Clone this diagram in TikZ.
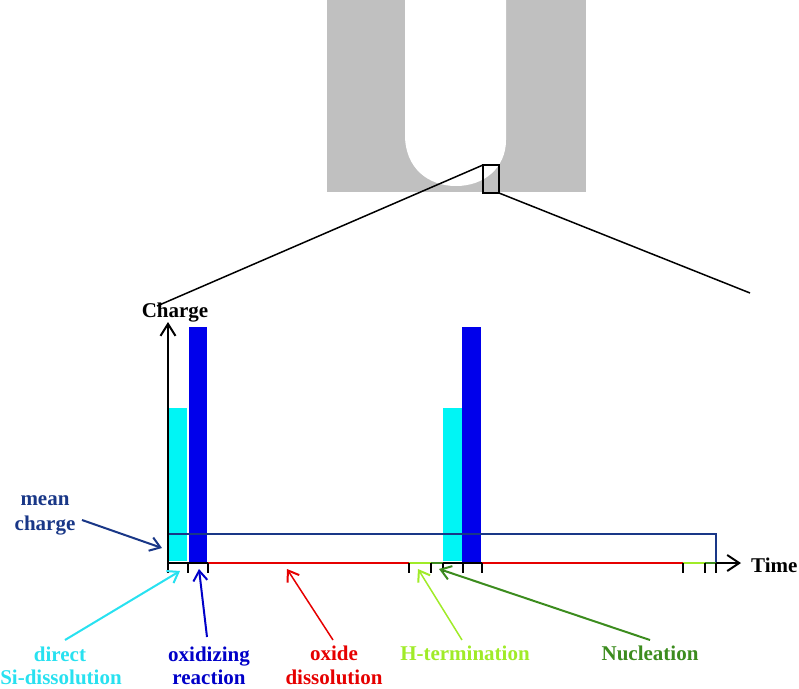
\documentclass[tikz,border=0pt]{standalone}
\usepackage{fontspec}
\setmainfont{Liberation Serif}
\usetikzlibrary{arrows.meta}
\definecolor{ugray}{RGB}{192,192,192}
\definecolor{bcyan}{RGB}{0,245,245}
\definecolor{bblue}{RGB}{0,0,235}
\definecolor{lred}{RGB}{230,0,0}
\definecolor{lgreen}{RGB}{160,235,40}
\definecolor{dgreen}{RGB}{60,140,30}
\definecolor{navy}{RGB}{25,55,135}
\definecolor{tcyan}{RGB}{40,225,240}
\definecolor{tblue}{RGB}{0,0,200}
\begin{document}
\begin{tikzpicture}[x=1pt,y=-1pt,
  lbl/.style={font=\fontsize{21}{25}\selectfont\bfseries, anchor=base, inner sep=0pt},
  ptr/.style={line width=2pt, -{Straight Barb[length=10pt,width=14pt,line width=2pt]}},
  axis/.style={line width=2pt},
  tick/.style={line width=2pt},
  zoomline/.style={line width=1.5pt}]
\useasboundingbox (0,0) rectangle (799,688);
% U-shaped groove
\fill[ugray] (327,0) rectangle (586,192);
\fill[white] (405,-1) -- (405,135) .. controls (405,168) and (428,186) .. (456,186)
   .. controls (484,186) and (506,168) .. (506,140) -- (506,-1) -- cycle;
\draw[line width=2pt] (483,165) rectangle (499,193);
\coordinate (zl) at (483,165);
\coordinate (zr) at (499,193);
\coordinate (zle) at (157,306);
\coordinate (zre) at (750,293);
\draw[zoomline] (zl) -- (zle);
\draw[zoomline] (zr) -- (zre);
% bars
\fill[bcyan] (168,408) rectangle (187,561);
\fill[bblue] (189,327) rectangle (207,563);
\fill[bcyan] (443,408) rectangle (462,561);
\fill[bblue] (462,327) rectangle (481,563);
% mean charge line
\draw[navy, line width=2pt] (168,534) -- (716,534) -- (716,563);
% time axis segments
\coordinate (o) at (168,563);
\coordinate (tend) at (741,563);
\draw[axis] (o) -- (208,563);
\draw[axis, lred] (208,563) -- (409,563);
\draw[axis, lgreen] (409,563) -- (431,563);
\draw[axis, dgreen] (431,563) -- (443,563);
\draw[axis] (443,563) -- (482,563);
\draw[axis, lred] (482,563) -- (683,563);
\draw[axis, lgreen] (683,563) -- (705,563);
\draw[axis, dgreen] (705,563) -- (716,563);
\draw[axis, -{Straight Barb[length=12pt,width=16pt,line width=2pt]}] (716,563) -- (tend);
\coordinate (cend) at (168,322);
\draw[axis, -{Straight Barb[length=12pt,width=15pt,line width=2pt]}] (168,573) -- (cend);
% ticks
\foreach \x in {188,208,409,431,443,463,482,683,705,716}
  \draw[tick] (\x,563) -- (\x,573);
% axis labels
\node[lbl] (charge) at (175,317) {Charge};
\node[lbl, anchor=base west] (time) at (751,572) {Time};
% labels
\node[lbl, navy] (mean1) at (45,505) {mean};
\node[lbl, navy] (mean2) at (45,530) {charge};
\node[lbl, tcyan] (dir1) at (60,661) {direct};
\node[lbl, tcyan] (dir2) at (61,684) {Si-dissolution};
\node[lbl, tblue] (ox1) at (209,661) {oxidizing};
\node[lbl, tblue] (ox2) at (209,684) {reaction};
\node[lbl, lred] (od1) at (334,660) {oxide};
\node[lbl, lred] (od2) at (334,684) {dissolution};
\node[lbl, lgreen] (ht) at (465,660) {H-termination};
\node[lbl, dgreen] (nuc) at (650,660) {Nucleation};
% pointer coordinates
\coordinate (ms) at (82,520); \coordinate (me) at (162,548);
\coordinate (ds) at (65,640); \coordinate (de) at (180,571);
\coordinate (os) at (207,637); \coordinate (oe) at (199,569);
\coordinate (xs) at (333,640); \coordinate (xe) at (287,569);
\coordinate (hs) at (462,640); \coordinate (he) at (418,569);
\coordinate (ns) at (650,640); \coordinate (ne) at (439,569);
\draw[ptr, navy] (ms) -- (me);
\draw[ptr, tcyan] (ds) -- (de);
\draw[ptr, tblue] (os) -- (oe);
\draw[ptr, lred, line width=1.5pt] (xs) -- (xe);
\draw[ptr, lgreen, line width=1.5pt] (hs) -- (he);
\draw[ptr, dgreen] (ns) -- (ne);
\end{tikzpicture}
\end{document}
